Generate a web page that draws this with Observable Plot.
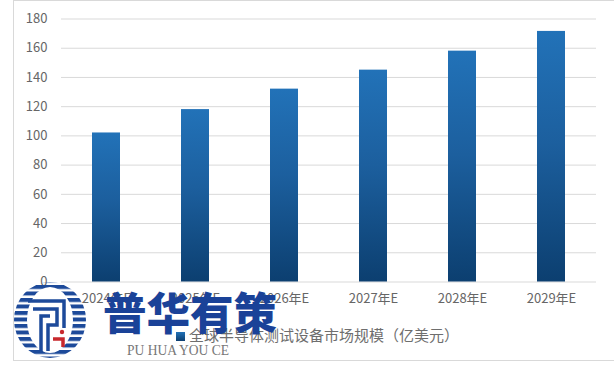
<!DOCTYPE html>
<html><head><meta charset="utf-8">
<script src="https://cdn.jsdelivr.net/npm/d3@7"></script>
<script src="https://cdn.jsdelivr.net/npm/@observablehq/plot@0.6"></script>
<style>
html,body{margin:0;padding:0;background:#fff;width:614px;height:378px;overflow:hidden;position:relative}
#frame{position:absolute;left:13px;top:0;width:620px;height:361px;border:1px solid #d9d9d9;box-sizing:border-box}
#chart{position:absolute;left:0;top:0}
#legend{position:absolute;left:176px;top:325px;font:15px "Noto Sans CJK SC",sans-serif;color:#6e6e6e;white-space:nowrap;line-height:20px}
#legend i{display:inline-block;width:9px;height:9px;margin-right:4px;background:linear-gradient(#2272b8,#0d3f70)}
#logo{position:absolute;left:0;top:0}
</style></head><body>
<div id="frame"></div>
<div id="chart"></div>
<div id="legend"><i></i>全球半导体测试设备市场规模（亿美元）</div>
<svg id="logo" width="614" height="378" xmlns="http://www.w3.org/2000/svg">
  <defs>
    <clipPath id="ring"><path clip-rule="evenodd" d="M14,320a36,38 0 1,0 72,0a36,38 0 1,0 -72,0Z M27,320a23,33 0 1,0 46,0a23,33 0 1,0 -46,0Z"/></clipPath>
    <pattern id="stripes" width="8" height="6.5" patternUnits="userSpaceOnUse" y="285"><rect width="8" height="4" fill="#1d4a9a"/></pattern>
  </defs>
  <rect x="14" y="281" width="72" height="78" fill="url(#stripes)" clip-path="url(#ring)"/>
  <g fill="none" stroke="#1d4a9a" stroke-width="3.5">
    <path d="M28,301H64V328"/>
    <path d="M33,309H57V325H48V351"/>
    <path d="M41,353V316H50"/>
  </g>
  <path d="M53,339H63V347" fill="none" stroke="#c8282d" stroke-width="3.5"/>
  <circle cx="62" cy="332" r="2.2" fill="#c8282d"/>
  <text x="103" y="330" font-family="Noto Sans CJK SC" font-weight="900" font-size="44" fill="#1a4298" textLength="174" lengthAdjust="spacingAndGlyphs">普华有策</text>
  <text x="127" y="355" font-family="Liberation Serif" font-size="15" fill="#777" textLength="102" lengthAdjust="spacingAndGlyphs">PU HUA YOU CE</text>
</svg>
<script>
const years = ["2024年E","2025年E","2026年E","2027年E","2028年E","2029年E"];
const marketSize = [102,118,132,145,158,171.5];
const yTicks = [0,20,40,60,80,100,120,140,160,180];
const rows = years.map((year,i)=>({year,value:marketSize[i]}));
const gradient = () => {
  const s = d3.create("svg:defs");
  const g = s.append("linearGradient").attr("id","barGrad").attr("x1",0).attr("x2",0).attr("y1",0).attr("y2",1);
  g.append("stop").attr("offset","0%").attr("stop-color","#2272b8");
  g.append("stop").attr("offset","45%").attr("stop-color","#1c5f9e");
  g.append("stop").attr("offset","100%").attr("stop-color","#0c3f70");
  return s.node();
};
const chart = Plot.plot({
  width:614, height:378,
  marginLeft:61, marginRight:18, marginTop:18.5, marginBottom:96.5,
  style:{background:"transparent",fontFamily:"'Noto Sans CJK SC',sans-serif",fontSize:"13px",color:"#666"},
  x:{domain:years,paddingInner:0.68,paddingOuter:0.34,tickSize:0,tickPadding:12,label:null},
  y:{domain:[0,180],ticks:yTicks,tickSize:0,tickPadding:14,label:null},
  marks:[
    gradient,
    Plot.gridY(yTicks,{stroke:"#d9d9d9",strokeOpacity:1}),
    Plot.barY(rows,{x:"year",y:"value",fill:"url(#barGrad)"})
  ]
});
document.getElementById("chart").append(chart);
</script>
</body></html>
